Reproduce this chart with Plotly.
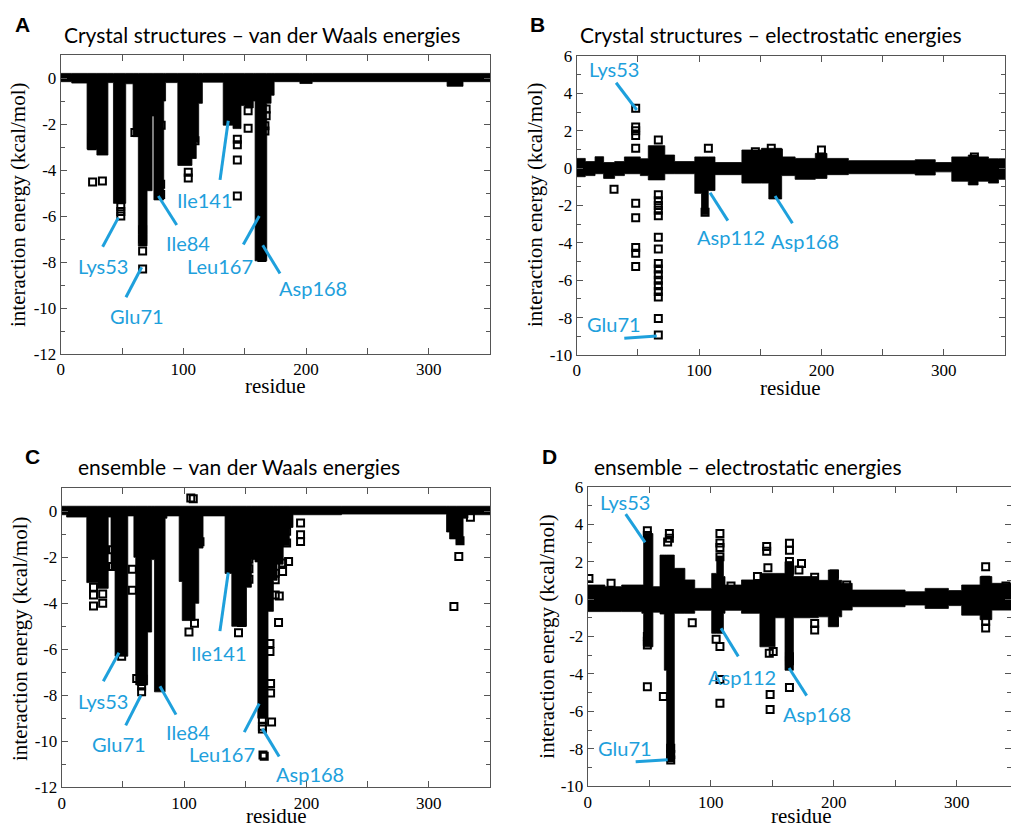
import plotly.graph_objects as go

W, H = 1011, 828
BLUE = "#1EA0DC"
SANS = "Lato"
SERIF = "Liberation Serif"

# ------------------------------------------------------------------
# Data.  Envelopes: residue breakpoints and the
# upper / lower extent of the dense cloud of squares (step-wise);
# points: isolated open squares (residue, energy).
# ------------------------------------------------------------------
# Panel A: crystal structures, van der Waals
A_env_res = [-4, 9, 21.5, 29.5, 38.5, 43, 53, 59, 63.3, 70.4, 74.5, 76, 84, 85.5, 95.5, 107, 110.5,
             112.5, 115.5, 132.5, 140.5, 147, 150, 157, 158.5, 168, 171.5, 174, 195, 205, 315, 328, 352]
A_env_top = [0.2] * len(A_env_res)
A_env_bot = [-0.16, -0.22, -3.1, -3.35, -0.2, -5.45, -0.25, -2.55, -7.3, -4.9, -1.65, -5.3, -1.0, -0.2,
             -3.8, -3.5, -2.8, -1.1, -0.18, -2.05, -2.2, -1.2, -1.3, -1.0, -7.95, -1.1, -0.75, -0.16,
             -0.24, -0.16, -0.36, -0.16, -0.16]
A_points = [(25.5, -2.6), (25.5, -2.75), (25.5, -2.95), (34, -3.15), (26, -4.52), (34, -4.48),
            (49, -5.6), (49, -5.8), (49, -6.0), (60.5, -2.37), (66.8, -6.6), (66.8, -7.0),
            (66.8, -7.52), (66.8, -8.3), (81.9, -2.05), (81.5, -4.62), (81.5, -5.06), (104, -4.1),
            (104, -4.35), (109.5, -2.73), (144, -2.66), (144, -2.9), (144, -3.56), (144, -5.13),
            (152.8, -1.42), (152.8, -2.18), (167.5, -1.35), (167.5, -1.64), (166.5, -2.08),
            (166.5, -2.3), (164, -7.6), (164, -7.8)]

# Panel B: crystal structures, electrostatic
B_env_res = [-2, 7, 15, 22, 31, 39, 52, 58.5, 72, 80, 96.5, 102, 107.5, 113, 135, 151, 157, 167.5,
             178.5, 195, 204.5, 222, 276.6, 293, 306.5, 320, 328, 336.5, 344.7, 352]
B_env_top = [0.52, 0.35, 0.61, 0.3, 0.35, 0.6, 0.5, 1.2, 0.7, 0.35, 0.6, 0.6, 0.6, 0.3, 0.97, 1.06,
             1.06, 0.6, 0.52, 0.79, 0.52, 0.4, 0.45, 0.3, 0.6, 0.7, 0.6, 0.5, 0.5, 0.5]
B_env_bot = [-0.46, -0.4, -0.3, -0.55, -0.4, -0.3, -0.4, -0.63, -0.3, -0.3, -1.35, -2.5, -1.2, -0.35,
             -0.8, -0.8, -1.65, -0.4, -0.6, -0.55, -0.35, -0.3, -0.37, -0.2, -0.7, -0.9, -0.7, -0.8,
             -0.6, -0.6]
B_points = [(30.5, -1.13), (48.2, 3.2), (48.2, 2.2), (48.2, 2.0), (48.2, 1.75), (48.2, 1.06),
            (48.2, -1.88), (48.2, -2.65), (48.2, -4.25), (48.2, -4.56), (48.2, -5.27), (66.7, 1.5),
            (66.7, -1.43), (66.7, -1.75), (66.7, -2.0), (66.7, -2.25), (66.7, -2.55), (66.7, -3.7),
            (66.7, -4.33), (66.7, -5.1), (66.7, -5.4), (66.7, -5.7), (66.7, -6.0), (66.7, -6.3),
            (66.7, -6.6), (66.7, -6.9), (66.7, -8.05), (66.7, -8.93), (104.9, -2.36),
            (107.6, 1.06), (146, 0.88), (159, 1.06), (164.8, 0.8), (200, 0.97), (325, 0.6)]

# Panel C: ensemble, van der Waals
C_env_res = [-4, 4, 20.5, 29.5, 38, 40.3, 43.6, 54, 59, 60.5, 70.2, 73.5, 75.8, 84.5, 86, 96, 98.5,
             109, 112, 115.5, 133.5, 139, 151, 155, 158, 160.3, 168.6, 173, 176, 181, 186, 189,
             228.7, 314.5, 317, 322.5, 328, 332, 352]
C_env_top = [0.22] * len(C_env_res)
C_env_bot = [-0.15, -0.25, -3.1, -3.35, -0.25, -2.55, -6.3, -0.2, -2.0, -7.55, -5.25, -2.1, -7.85,
             -0.3, -0.2, -3.05, -4.75, -4.0, -1.6, -0.2, -2.7, -5.0, -3.3, -2.1, -2.2, -9.0, -4.35,
             -3.0, -2.3, -1.5, -0.7, -0.15, -0.12, -0.9, -1.2, -1.42, -0.3, -0.15, -0.15]
C_points = [(26, -3.3), (26, -3.64), (26, -4.12), (33.5, -3.6), (33.5, -4.0), (41.5, -1.67),
            (41.5, -2.4), (49, -5.82), (49, -6.1), (49, -6.3), (57.7, -2.52), (57.7, -3.43),
            (61.3, -7.27), (65.3, -7.4), (65.3, -7.6), (65.3, -7.85), (66.5, -7.3), (104, -5.25),
            (108.5, -4.87), (105.5, 0.58), (107.5, 0.55), (113, -1.32), (146, -4.55), (147, -4.84),
            (144.5, -5.28), (153, -2.08), (153, -2.5), (153, -2.95), (164, -8.77), (164, -9.06),
            (164, -9.35), (164, -9.47), (164.5, -10.6), (165.5, -10.65), (170.2, -5.75),
            (170.2, -6.1), (170.7, -7.49), (170.7, -7.9), (171.5, -9.16), (174.5, -2.69),
            (174.5, -2.98), (174.5, -3.64), (177.8, -3.68), (177.2, -4.83), (180.5, -2.25),
            (180.5, -2.62), (185.4, -2.18), (183.8, -0.87), (183.8, -1.38), (195.2, -0.51),
            (195.2, -1.02), (195.2, -1.31), (325.5, -1.28), (324.5, -1.96), (320.5, -4.14),
            (334, -0.26)]

# Panel D: ensemble, electrostatic
D_env_res = [-2, 14, 27.6, 44, 45.5, 53, 58.8, 62.3, 64.2, 70.4, 79, 87, 100.8, 104.9, 110.3, 111.6,
             125, 140, 152.3, 160.4, 167.2, 187.5, 195.6, 203.8, 206.5, 215, 258, 274.3, 293.2, 304,
             319, 328.5, 346]
D_env_top = [0.75, 0.66, 0.75, 0.75, 3.5, 0.66, 2.35, 2.35, 2.35, 1.64, 1.02, 0.57, 1.37, 2.3, 1.2,
             0.75, 1.02, 1.37, 1.37, 2.0, 1.2, 1.0, 1.55, 1.0, 0.84, 0.48, 0.39, 0.57, 0.45, 0.75,
             1.2, 0.84, 0.84]
D_env_bot = [-0.67, -0.67, -0.67, -0.76, -2.55, -0.7, -0.8, -3.8, -8.7, -0.76, -0.76, -0.6, -1.83,
             -1.83, -0.76, -0.6, -0.76, -2.55, -1.0, -3.8, -1.0, -0.95, -1.48, -0.95, -0.59, -0.41,
             -0.32, -0.5, -0.35, -0.86, -1.1, -0.59, -0.59]
D_points = [(1, 1.1), (19, 0.84), (48.5, 3.65), (48.5, 3.4), (48.5, -2.0), (48.5, -2.25),
            (48.5, -2.45), (48.5, -4.68), (66.4, 3.5), (66.4, 3.25), (65, 3.05), (61.5, -5.2),
            (67.5, -7.97), (67.5, -8.3), (67.5, -8.6), (85, -1.26), (107.5, 3.5), (107.5, 3.0),
            (107.5, 2.75), (107.5, 2.26), (104.4, -2.15), (107.5, -2.54), (107.5, -4.3),
            (107.5, -5.57), (116.5, 0.7), (138, 1.2), (145.5, 2.8), (145.5, 2.55), (146.5, 1.67),
            (147.6, -2.9), (150.8, -2.8), (148.3, -5.1), (148.3, -5.9), (164, 2.98), (164, 2.6),
            (164, 2.0), (164, 1.55), (164, -3.08), (164, -3.3), (164, -4.72), (173.8, 1.9),
            (171.7, 1.55), (184.5, 1.16), (184.5, -1.3), (184.5, -1.65), (200.5, 1.34),
            (200.5, -1.21), (210.5, 0.75), (323.5, 1.73), (323.5, 1.0), (323.5, -1.2),
            (323.5, -1.55), (340, 0.7)]

# Callouts: (label, text x, text y, line from x, y, line to x, y) in data units
A_callouts = [("Lys53", 34.3, -8.18, 34.2, -7.34, 47.0, -6.07),
              ("Glu71", 62.6, -10.36, 53.2, -9.53, 66.0, -8.23),
              ("Ile84", 103.8, -7.16, 94.6, -6.39, 79.6, -5.13),
              ("Ile141", 117.6, -5.32, 129.9, -4.43, 136.6, -1.86),
              ("Leu167", 129.5, -8.18, 148.9, -7.24, 161.9, -6.0),
              ("Asp168", 205.4, -9.15, 178.8, -8.5, 164.7, -7.27)]
B_callouts = [("Lys53", 30.5, 5.3, 32.2, 4.57, 49.1, 3.11),
              ("Glu71", 30.4, -8.34, 38.9, -9.1, 65.4, -8.98),
              ("Asp112", 126.2, -3.71, 123.5, -2.81, 109.0, -1.32),
              ("Asp168", 186.4, -3.89, 176.3, -2.95, 162.1, -1.49)]
C_callouts = [("Lys53", 34.0, -8.25, 34.0, -7.39, 46.8, -6.15),
              ("Glu71", 46.8, -10.13, 52.3, -9.31, 64.8, -8.0),
              ("Ile84", 103.4, -9.6, 93.4, -8.84, 80.3, -7.61),
              ("Ile141", 128.5, -6.18, 129.3, -5.21, 136.1, -2.66),
              ("Leu167", 131.3, -10.54, 149.2, -9.6, 161.4, -8.36),
              ("Asp168", 202.8, -11.42, 177.7, -10.66, 163.9, -9.45)]
D_callouts = [("Lys53", 30.5, 5.17, 30.9, 4.54, 46.6, 3.03),
              ("Glu71", 30.7, -7.95, 39.0, -8.69, 65.0, -8.58),
              ("Asp112", 125.4, -4.14, 122.4, -3.06, 108.4, -1.56),
              ("Asp168", 186.2, -6.14, 178.0, -5.16, 163.7, -3.68)]

X_TICKS = [0, 100, 200, 300]
X_MINOR = [50, 150, 250]
VDW_TICKS = [-12, -10, -8, -6, -4, -2, 0]
VDW_MINOR = [-11, -9, -7, -5, -3, -1, 1]
ELE_TICKS = [-10, -8, -6, -4, -2, 0, 2, 4, 6]
ELE_MINOR = [-9, -7, -5, -3, -1, 1, 3, 5]

TITLES = ["Crystal structures \u2013 van der Waals energies",
          "Crystal structures \u2013 electrostatic energies",
          "ensemble \u2013 van der Waals energies",
          "ensemble \u2013 electrostatic energies"]
LETTERS = ["A", "B", "C", "D"]


# ------------------------------------------------------------------
def fx(p):
    return p / W


def fy(p):
    return 1 - p / H


panels = [
    dict(env=(A_env_res, A_env_top, A_env_bot), pts=A_points, calls=A_callouts,
         xd=(60.7, 490), yd=(55, 354), xr=[0, 350], yr=[-12, 1], yt=VDW_TICKS, ym=VDW_MINOR,
         title=(262, 35), letter=(22, 24), ytitle=(18, 205), xtitle=(275, 386)),
    dict(env=(B_env_res, B_env_top, B_env_bot), pts=B_points, calls=B_callouts,
         xd=(576.7, 1005), yd=(56, 355), xr=[0, 350], yr=[-10, 6], yt=ELE_TICKS, ym=ELE_MINOR,
         title=(771, 35), letter=(537, 24), ytitle=(535, 205), xtitle=(790, 388)),
    dict(env=(C_env_res, C_env_top, C_env_bot), pts=C_points, calls=C_callouts,
         xd=(61.7, 490), yd=(488.3, 787.3), xr=[0, 350], yr=[-12, 1], yt=VDW_TICKS, ym=VDW_MINOR,
         title=(239, 467), letter=(32, 456), ytitle=(20, 639), xtitle=(276, 816)),
    dict(env=(D_env_res, D_env_top, D_env_bot), pts=D_points, calls=D_callouts,
         xd=(587.7, 1011), yd=(486.7, 786.3), xr=[0, 344.1], yr=[-10, 6], yt=ELE_TICKS, ym=ELE_MINOR,
         title=(747.5, 467), letter=(549.5, 456.5), ytitle=(546.7, 636), xtitle=(801.7, 815.5)),
]

fig = go.Figure()
annotations = []
shapes = []
layout = {}

for i, p in enumerate(panels):
    n = "" if i == 0 else str(i + 1)
    xa, ya = "x" + n, "y" + n
    res, top, bot = p["env"]
    fig.add_trace(go.Scatter(x=res, y=bot, mode="lines", xaxis=xa, yaxis=ya,
                             line=dict(shape="hv", width=0.8, color="black"),
                             hoverinfo="skip", showlegend=False))
    fig.add_trace(go.Scatter(x=res, y=top, mode="lines", xaxis=xa, yaxis=ya,
                             line=dict(shape="hv", width=0.8, color="black"),
                             fill="tonexty", fillcolor="black",
                             hoverinfo="skip", showlegend=False))
    px_ = [q[0] for q in p["pts"]]
    py_ = [q[1] for q in p["pts"]]
    fig.add_trace(go.Scatter(x=px_, y=py_, mode="markers", xaxis=xa, yaxis=ya,
                             marker=dict(symbol="square-open", size=7, color="black",
                                         line=dict(width=2, color="black")),
                             hoverinfo="skip", showlegend=False))

    common = dict(showline=True, linecolor="#555", linewidth=1, mirror="allticks",
                  ticks="inside", ticklen=6, tickwidth=1, tickcolor="#555",
                  showgrid=False, zeroline=False, automargin=False,
                  tickfont=dict(family=SERIF, size=17, color="black"))
    layout["xaxis" + n] = dict(common, domain=[fx(p["xd"][0]), min(1.0, fx(p["xd"][1]))],
                               range=p["xr"], anchor=ya, tickmode="array",
                               tickvals=X_TICKS, ticktext=[str(v) for v in X_TICKS],
                               minor=dict(tickmode="array", tickvals=X_MINOR, ticks="inside",
                                          ticklen=6, tickcolor="#555", showgrid=False))
    layout["yaxis" + n] = dict(common, domain=[fy(p["yd"][1]), fy(p["yd"][0])],
                               range=p["yr"], anchor=xa, tickmode="array",
                               tickvals=p["yt"], ticktext=[str(v) for v in p["yt"]],
                               minor=dict(tickmode="array", tickvals=p["ym"], ticks="inside",
                                          ticklen=4, tickcolor="#555", showgrid=False))

    # texts in paper space
    annotations.append(dict(text=TITLES[i], x=fx(p["title"][0]), y=fy(p["title"][1]),
                            xref="paper", yref="paper", showarrow=False, xanchor="center",
                            yanchor="middle", font=dict(family=SANS, size=21, color="black")))
    annotations.append(dict(text="<b>%s</b>" % LETTERS[i], x=fx(p["letter"][0]), y=fy(p["letter"][1]),
                            xref="paper", yref="paper", showarrow=False, xanchor="center",
                            yanchor="middle", font=dict(family="Liberation Sans", size=21, color="black")))
    annotations.append(dict(text="interaction energy (kcal/mol)", x=fx(p["ytitle"][0]),
                            y=fy(p["ytitle"][1]), xref="paper", yref="paper", showarrow=False,
                            textangle=-90, xanchor="center", yanchor="middle",
                            font=dict(family=SERIF, size=21, color="black")))
    annotations.append(dict(text="residue", x=fx(p["xtitle"][0]), y=fy(p["xtitle"][1]),
                            xref="paper", yref="paper", showarrow=False, xanchor="center",
                            yanchor="middle", font=dict(family=SERIF, size=21, color="black")))
    # callouts in data space
    for lab, tx, ty, x0, y0, x1, y1 in p["calls"]:
        annotations.append(dict(text=lab, x=tx, y=ty, xref=xa, yref=ya, showarrow=False,
                                xanchor="center", yanchor="middle",
                                font=dict(family=SANS, size=20, color=BLUE)))
        shapes.append(dict(type="line", xref=xa, yref=ya, x0=x0, y0=y0, x1=x1, y1=y1,
                           line=dict(color=BLUE, width=3)))

fig.update_layout(template="none", width=W, height=H,
                  margin=dict(l=0, r=0, t=0, b=0, pad=0, autoexpand=False),
                  paper_bgcolor="white", plot_bgcolor="white",
                  annotations=annotations, shapes=shapes, showlegend=False, **layout)

fig.write_html("out.html", config={"displayModeBar": False},
               post_script="document.body.style.margin='0';document.body.style.padding='0';"
                           "document.body.style.overflow='hidden';")
